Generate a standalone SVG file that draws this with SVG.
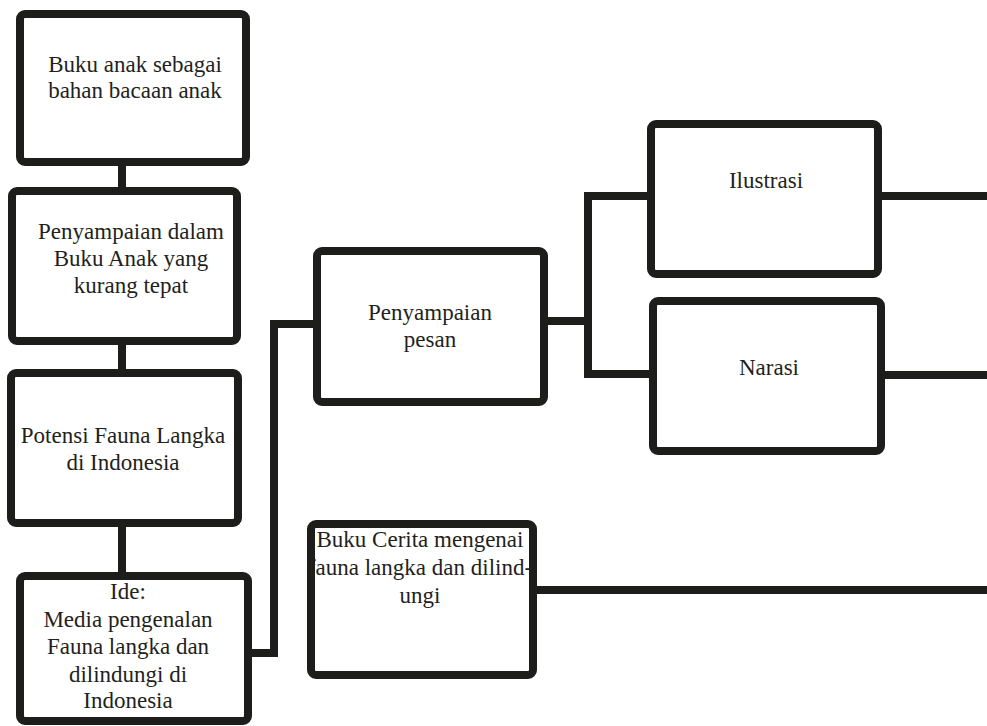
<svg xmlns="http://www.w3.org/2000/svg" width="987" height="726" viewBox="0 0 987 726">
<rect width="987" height="726" fill="#fff"/>
<g id="connectors" fill="none" stroke="#1d1d1b" stroke-width="8">
<path d="M122 162V191"/>
<path d="M122 341V373"/>
<path d="M122 523V576"/>
<path d="M248 653H274V324H317"/>
<path d="M544 321H588"/>
<path d="M647 196H588V374H653"/>
<path d="M878 196H987"/>
<path d="M881 375H987"/>
<path d="M533 590H987"/>
</g>
<g id="n1"><rect x="20" y="14" width="226" height="148" rx="5" fill="#fff" stroke="#1d1d1b" stroke-width="8"/>
<text font-family="Times New Roman" font-size="23" fill="#231f20" text-anchor="middle" x="135" y="72">Buku anak sebagai</text><text font-family="Times New Roman" font-size="23" fill="#231f20" text-anchor="middle" x="135" y="98">bahan bacaan anak</text></g>
<g id="n2"><rect x="12" y="191" width="225" height="150" rx="5" fill="#fff" stroke="#1d1d1b" stroke-width="8"/>
<text font-family="Times New Roman" font-size="23" fill="#231f20" text-anchor="middle" x="131" y="239">Penyampaian dalam</text><text font-family="Times New Roman" font-size="23" fill="#231f20" text-anchor="middle" x="131" y="266">Buku Anak yang</text><text font-family="Times New Roman" font-size="23" fill="#231f20" text-anchor="middle" x="131" y="293">kurang tepat</text></g>
<g id="n3"><rect x="11" y="373" width="227" height="150" rx="5" fill="#fff" stroke="#1d1d1b" stroke-width="8"/>
<text font-family="Times New Roman" font-size="23" fill="#231f20" text-anchor="middle" x="123" y="443">Potensi Fauna Langka</text><text font-family="Times New Roman" font-size="23" fill="#231f20" text-anchor="middle" x="123" y="470">di Indonesia</text></g>
<g id="n4"><rect x="20" y="576" width="228" height="145" rx="5" fill="#fff" stroke="#1d1d1b" stroke-width="8"/>
<text font-family="Times New Roman" font-size="23" fill="#231f20" text-anchor="middle" x="128" y="599">Ide:</text><text font-family="Times New Roman" font-size="23" fill="#231f20" text-anchor="middle" x="128" y="627">Media pengenalan</text><text font-family="Times New Roman" font-size="23" fill="#231f20" text-anchor="middle" x="128" y="654">Fauna langka dan</text><text font-family="Times New Roman" font-size="23" fill="#231f20" text-anchor="middle" x="128" y="682">dilindungi di</text><text font-family="Times New Roman" font-size="23" fill="#231f20" text-anchor="middle" x="128" y="708">Indonesia</text></g>
<g id="n5"><rect x="317" y="251" width="227" height="151" rx="5" fill="#fff" stroke="#1d1d1b" stroke-width="8"/>
<text font-family="Times New Roman" font-size="23" fill="#231f20" text-anchor="middle" x="430" y="320">Penyampaian</text><text font-family="Times New Roman" font-size="23" fill="#231f20" text-anchor="middle" x="430" y="347">pesan</text></g>
<g id="n6"><rect x="651" y="124" width="227" height="150" rx="5" fill="#fff" stroke="#1d1d1b" stroke-width="8"/>
<text font-family="Times New Roman" font-size="23" fill="#231f20" text-anchor="middle" x="766" y="188">Ilustrasi</text></g>
<g id="n7"><rect x="653" y="301" width="228" height="150" rx="5" fill="#fff" stroke="#1d1d1b" stroke-width="8"/>
<text font-family="Times New Roman" font-size="23" fill="#231f20" text-anchor="middle" x="769" y="375">Narasi</text></g>
<g id="n8"><rect x="311" y="524" width="222" height="151" rx="5" fill="#fff" stroke="#1d1d1b" stroke-width="8"/>
<text font-family="Times New Roman" font-size="23" fill="#231f20" text-anchor="middle" x="420" y="547">Buku Cerita mengenai</text><text font-family="Times New Roman" font-size="23" fill="#231f20" text-anchor="middle" x="420" y="575">fauna langka dan dilind-</text><text font-family="Times New Roman" font-size="23" fill="#231f20" text-anchor="middle" x="420" y="603">ungi</text></g>
</svg>
